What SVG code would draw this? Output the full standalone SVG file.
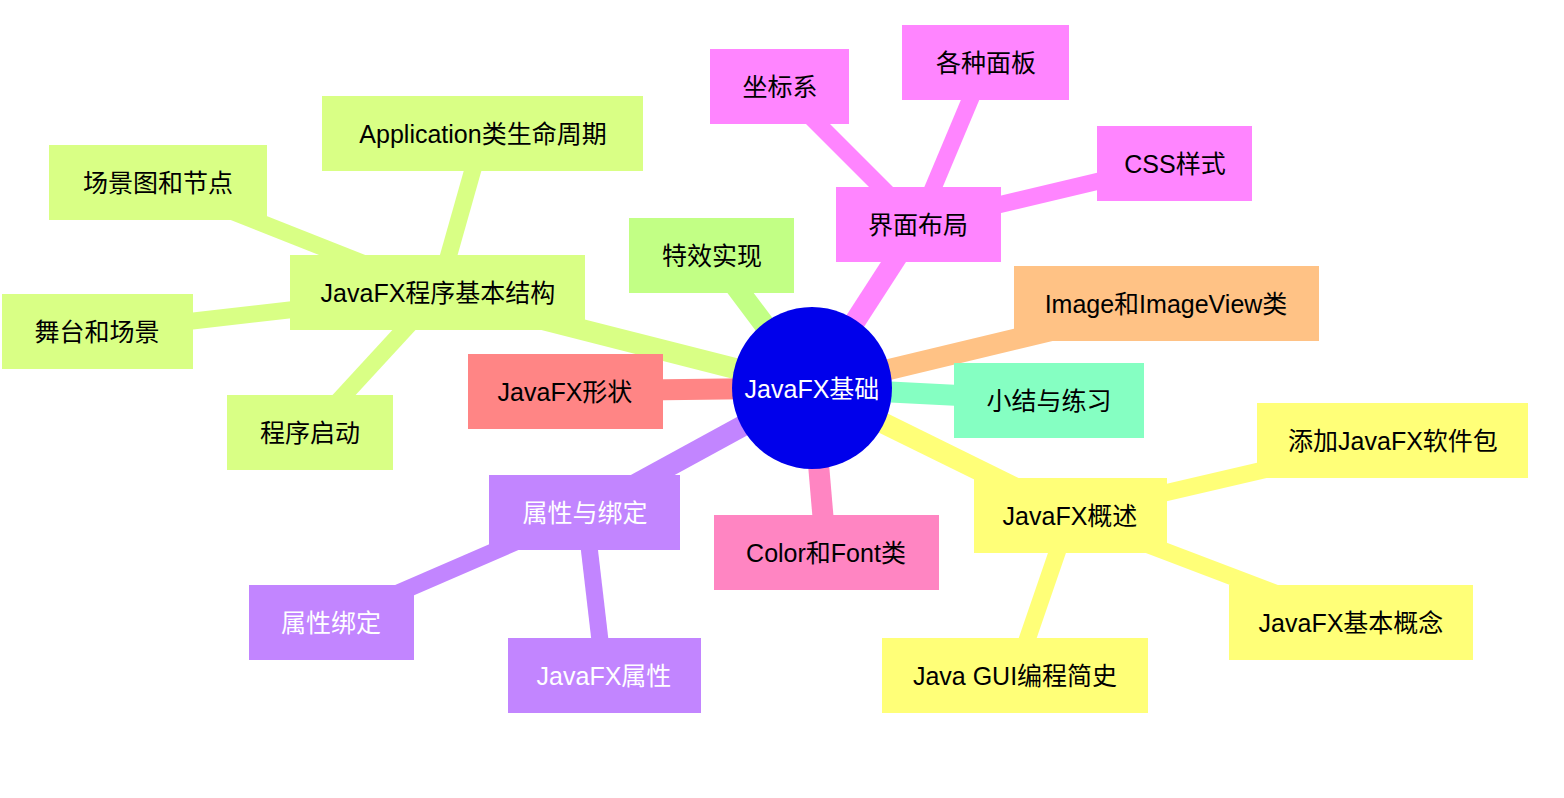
<svg xmlns="http://www.w3.org/2000/svg" width="1564" height="798" viewBox="0 0 1564 798">
<style>
  text { font-family: "Liberation Sans", "Noto Sans CJK SC", sans-serif; font-size: 25px; text-anchor: middle; dominant-baseline: central; fill: #000; }
  .w { fill: #fff; }
  .e0 { stroke-width: 21; fill: none; stroke-linecap: butt; }
  .e1 { stroke-width: 17; fill: none; stroke-linecap: butt; }
  .green { fill: #d9ff85; } .sgreen { stroke: #d9ff85; }
  .lime { fill: #c2ff85; } .slime { stroke: #c2ff85; }
  .mag { fill: #ff85ff; } .smag { stroke: #ff85ff; }
  .orange { fill: #ffc285; } .sorange { stroke: #ffc285; }
  .mint { fill: #85ffc2; } .smint { stroke: #85ffc2; }
  .yellow { fill: #ffff78; } .syellow { stroke: #ffff78; }
  .pink { fill: #ff85c2; } .spink { stroke: #ff85c2; }
  .purple { fill: #c285ff; } .spurple { stroke: #c285ff; }
  .red { fill: #ff8585; } .sred { stroke: #ff8585; }
</style>
<rect width="1564" height="798" fill="#fff"/>
<g id="connectors">
  <line class="e0 sgreen" x1="812" y1="388" x2="438" y2="293"/>
  <line class="e1 sgreen" x1="438" y1="293" x2="483" y2="134"/>
  <line class="e1 sgreen" x1="438" y1="293" x2="158" y2="182"/>
  <line class="e1 sgreen" x1="438" y1="293" x2="97" y2="332"/>
  <line class="e1 sgreen" x1="438" y1="293" x2="310" y2="432"/>
  <line class="e0 slime" x1="812" y1="388" x2="712" y2="255"/>
  <line class="e0 smag" x1="812" y1="388" x2="918" y2="224"/>
  <line class="e1 smag" x1="918" y1="224" x2="780" y2="86"/>
  <line class="e1 smag" x1="918" y1="224" x2="986" y2="62"/>
  <line class="e1 smag" x1="918" y1="224" x2="1175" y2="163"/>
  <line class="e0 sorange" x1="812" y1="388" x2="1166" y2="303"/>
  <line class="e0 smint" x1="812" y1="388" x2="1049" y2="400"/>
  <line class="e0 syellow" x1="812" y1="388" x2="1070" y2="515"/>
  <line class="e1 syellow" x1="1070" y1="515" x2="1393" y2="440"/>
  <line class="e1 syellow" x1="1070" y1="515" x2="1351" y2="622"/>
  <line class="e1 syellow" x1="1070" y1="515" x2="1015" y2="675"/>
  <line class="e0 spink" x1="812" y1="388" x2="826" y2="552"/>
  <line class="e0 spurple" x1="812" y1="388" x2="585" y2="512"/>
  <line class="e1 spurple" x1="585" y1="512" x2="331" y2="622"/>
  <line class="e1 spurple" x1="585" y1="512" x2="604" y2="675"/>
  <line class="e0 sred" x1="812" y1="388" x2="565" y2="391"/>
</g>
<g id="n-struct"><rect class="green" x="290" y="255" width="295" height="75"/><text x="438" y="293">JavaFX程序基本结构</text></g>
<g id="n-app"><rect class="green" x="322" y="96" width="321" height="75"/><text x="483" y="134">Application类生命周期</text></g>
<g id="n-scenegraph"><rect class="green" x="49" y="145" width="218" height="75"/><text x="158" y="183">场景图和节点</text></g>
<g id="n-stage"><rect class="green" x="2" y="294" width="191" height="75"/><text x="97" y="332">舞台和场景</text></g>
<g id="n-launch"><rect class="green" x="227" y="395" width="166" height="75"/><text x="310" y="433">程序启动</text></g>
<g id="n-effect"><rect class="lime" x="629" y="218" width="165" height="75"/><text x="712" y="256">特效实现</text></g>
<g id="n-layout"><rect class="mag" x="836" y="187" width="165" height="75"/><text x="918" y="225">界面布局</text></g>
<g id="n-coord"><rect class="mag" x="710" y="49" width="139" height="75"/><text x="780" y="87">坐标系</text></g>
<g id="n-panes"><rect class="mag" x="902" y="25" width="167" height="75"/><text x="986" y="63">各种面板</text></g>
<g id="n-css"><rect class="mag" x="1097" y="126" width="155" height="75"/><text x="1175" y="164">CSS样式</text></g>
<g id="n-image"><rect class="orange" x="1014" y="266" width="305" height="75"/><text x="1166" y="304">Image和ImageView类</text></g>
<g id="n-summary"><rect class="mint" x="954" y="363" width="190" height="75"/><text x="1049" y="401">小结与练习</text></g>
<g id="n-overview"><rect class="yellow" x="974" y="478" width="193" height="75"/><text x="1070" y="516">JavaFX概述</text></g>
<g id="n-addpkg"><rect class="yellow" x="1257" y="403" width="271" height="75"/><text x="1393" y="441">添加JavaFX软件包</text></g>
<g id="n-concept"><rect class="yellow" x="1229" y="585" width="244" height="75"/><text x="1351" y="623">JavaFX基本概念</text></g>
<g id="n-gui"><rect class="yellow" x="882" y="638" width="266" height="75"/><text x="1015" y="676">Java GUI编程简史</text></g>
<g id="n-color"><rect class="pink" x="714" y="515" width="225" height="75"/><text x="826" y="553">Color和Font类</text></g>
<g id="n-prop"><rect class="purple" x="489" y="475" width="191" height="75"/><text class="w" x="585" y="513">属性与绑定</text></g>
<g id="n-bind"><rect class="purple" x="249" y="585" width="165" height="75"/><text class="w" x="331" y="623">属性绑定</text></g>
<g id="n-fxprop"><rect class="purple" x="508" y="638" width="193" height="75"/><text class="w" x="604" y="676">JavaFX属性</text></g>
<g id="n-shape"><rect class="red" x="468" y="354" width="195" height="75"/><text x="565" y="392">JavaFX形状</text></g>
<g id="n-root"><ellipse cx="812" cy="388" rx="80" ry="81" fill="#0000eb"/><text class="w" x="812" y="389">JavaFX基础</text></g>
</svg>
